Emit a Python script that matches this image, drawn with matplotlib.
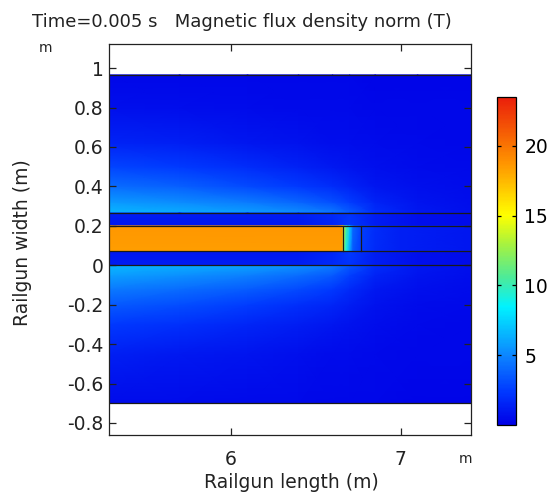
import numpy as np
import matplotlib
matplotlib.use('Agg')
import matplotlib.pyplot as plt
from matplotlib.colors import LinearSegmentedColormap, Normalize
from matplotlib.cm import ScalarMappable

plt.rcParams['font.family'] = ['DejaVu Sans']

# ---------------------------------------------------------------------------
# field samples (|B| in T) on a coarse mesh, one block per sub-domain
# ---------------------------------------------------------------------------
x_nodes = [5.28, 5.7, 6.1, 6.4, 6.6, 6.7, 6.85, 7.1, 7.42]

# air above the upper rail
y_air_top = [0.265, 0.32, 0.4, 0.5, 0.62, 0.8, 0.966]
B_air_top = [
    [6.6, 6.3, 5.8, 5.3, 4.6, 3.6, 2.0, 1.1, 0.7],
    [5.6, 5.2, 4.6, 3.9, 3.2, 2.5, 1.5, 0.9, 0.6],
    [4.2, 3.7, 3.0, 2.4, 1.9, 1.5, 1.0, 0.7, 0.5],
    [2.8, 2.4, 1.9, 1.4, 1.1, 0.9, 0.7, 0.5, 0.4],
    [1.5, 1.3, 1.0, 0.8, 0.6, 0.6, 0.5, 0.4, 0.3],
    [0.7, 0.6, 0.5, 0.4, 0.4, 0.4, 0.3, 0.3, 0.3],
    [0.3, 0.3, 0.3, 0.3, 0.3, 0.3, 0.2, 0.2, 0.2],
]

# air below the lower rail
y_air_bot = [-0.7, -0.45, -0.3, -0.2, -0.12, -0.05, 0.0]
B_air_bot = [
    [0.5, 0.5, 0.4, 0.4, 0.3, 0.3, 0.3, 0.2, 0.2],
    [1.3, 1.1, 0.9, 0.7, 0.5, 0.5, 0.4, 0.3, 0.3],
    [2.4, 2.1, 1.6, 1.2, 1.0, 0.8, 0.6, 0.4, 0.3],
    [3.5, 3.1, 2.5, 2.0, 1.6, 1.2, 0.8, 0.5, 0.4],
    [4.6, 4.2, 3.6, 3.0, 2.4, 1.8, 1.1, 0.7, 0.5],
    [5.8, 5.4, 4.8, 4.2, 3.5, 2.6, 1.5, 0.9, 0.6],
    [6.6, 6.3, 5.9, 5.4, 4.6, 3.4, 2.0, 1.1, 0.7],
]

# rails
y_rail_top = [0.2, 0.265]
B_rail_top = [
    [1.0, 1.0, 1.0, 1.1, 1.6, 2.4, 1.2, 0.7, 0.5],
    [1.2, 1.2, 1.2, 1.3, 1.8, 2.2, 1.2, 0.7, 0.5],
]
y_rail_bot = [0.0, 0.07]
B_rail_bot = [
    [1.2, 1.2, 1.2, 1.3, 1.8, 2.2, 1.2, 0.7, 0.5],
    [1.0, 1.0, 1.0, 1.1, 1.6, 2.4, 1.2, 0.7, 0.5],
]

# bore behind the armature
x_bore = [5.28, 6.662]
y_bore = [0.07, 0.2]
B_bore = [
    [18.4, 18.4],
    [18.7, 18.7],
]

# armature
x_arm = [6.662, 6.68, 6.70, 6.72, 6.769]
B_arm = [
    [12.0, 9.0, 6.0, 3.4, 2.4],
    [14.0, 10.5, 7.5, 4.0, 2.6],
]

# bore ahead of the armature
x_front = [6.769, 6.85, 7.0, 7.414]
B_front = [
    [2.4, 1.8, 1.3, 1.0],
    [2.6, 1.9, 1.3, 1.0],
]

# geometry lines
rail_lines = [0.0, 0.07, 0.2, 0.265]
domain_y = (-0.7, 0.966)
arm_edges = [6.662, 6.769]

cb_ticks = [5, 10, 15, 20]
B_max = 23.5

# ---------------------------------------------------------------------------
rainbow = LinearSegmentedColormap.from_list('rainbow_fem', [
    (0.00, (0.00, 0.00, 0.90)),
    (0.10, (0.00, 0.22, 1.00)),
    (0.21, (0.05, 0.52, 1.00)),
    (0.36, (0.00, 0.95, 1.00)),
    (0.45, (0.30, 0.92, 0.60)),
    (0.55, (0.65, 0.95, 0.25)),
    (0.64, (1.00, 1.00, 0.00)),
    (0.80, (1.00, 0.58, 0.00)),
    (1.00, (0.92, 0.12, 0.04)),
])
norm = Normalize(vmin=0, vmax=B_max)

fig = plt.figure(figsize=(5.56, 4.93), dpi=100)
ax = fig.add_axes([0.196, 0.1176, 0.651, 0.793])
cax = fig.add_axes([0.894, 0.138, 0.034, 0.665])


def patch(xs, ys, vals):
    X, Y = np.meshgrid(xs, ys)
    ax.pcolormesh(X, Y, np.array(vals), shading='gouraud', cmap=rainbow,
                  norm=norm, rasterized=True)


patch(x_nodes, y_air_top, B_air_top)
patch(x_nodes, y_air_bot, B_air_bot)
patch(x_nodes, y_rail_top, B_rail_top)
patch(x_nodes, y_rail_bot, B_rail_bot)
patch(x_bore, y_bore, B_bore)
patch(x_arm, y_bore, B_arm)
patch(x_front, y_bore, B_front)

lc = '#1a1a1a'
for yv in rail_lines + list(domain_y):
    ax.axhline(yv, color=lc, lw=0.9)
for xv in arm_edges:
    ax.plot([xv, xv], [y_bore[0], y_bore[1]], color=lc, lw=0.9)

ax.set_xlim(5.284, 7.414)
ax.set_ylim(-0.861, 1.122)
ax.set_xticks([6, 7])
ax.set_xticklabels(['6', '7'])
yt = [1, 0.8, 0.6, 0.4, 0.2, 0, -0.2, -0.4, -0.6, -0.8]
ax.set_yticks(yt)
ax.set_yticklabels(['1' if v == 1 else '0' if v == 0 else f'{v:.1f}'
                    for v in yt])
ax.tick_params(direction='in', top=True, right=True, length=5, width=0.9,
               labelsize=13.5, colors='#222222')
ax.tick_params(axis='x', pad=11)
ax.tick_params(axis='y', pad=4)
for s in ax.spines.values():
    s.set_linewidth(0.9)
    s.set_color('#222222')

sm = ScalarMappable(norm=norm, cmap=rainbow)
cb = fig.colorbar(sm, cax=cax, ticks=cb_ticks)
cb.outline.set_linewidth(0.9)
cax.tick_params(direction='in', left=True, right=True, length=3, width=0.9,
                labelsize=13.5, pad=6)

fig.text(0.435, 0.955, 'Time=0.005 s   Magnetic flux density norm (T)',
         ha='center', va='center', fontsize=13, color='#222222')
fig.text(0.081, 0.903, 'm', ha='center', va='center', fontsize=10,
         color='#222222')
fig.text(0.838, 0.069, 'm', ha='center', va='center', fontsize=10,
         color='#222222')
fig.text(0.524, 0.022, 'Railgun length (m)', ha='center', va='center',
         fontsize=13.5, color='#222222')
fig.text(0.040, 0.507, 'Railgun width (m)', ha='center', va='center',
         rotation=90, fontsize=13.5, color='#222222')

fig.savefig('out.png', dpi=100)
